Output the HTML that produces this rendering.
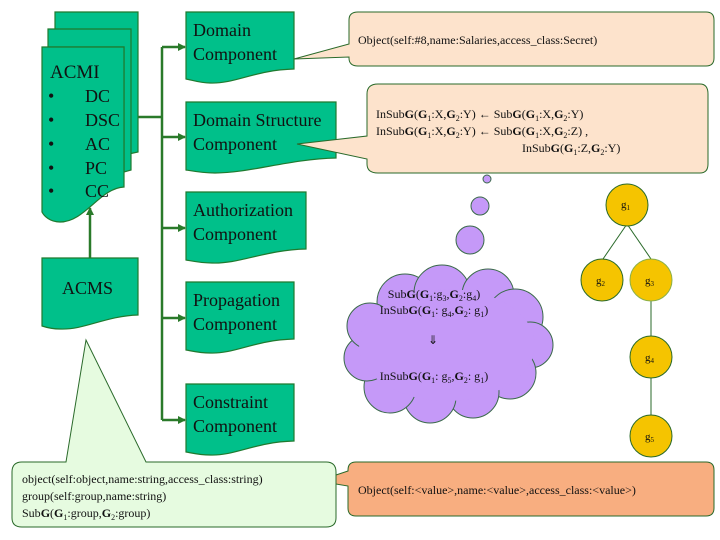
<!DOCTYPE html>
<html><head><meta charset="utf-8"><style>
html,body{margin:0;padding:0;background:#fff;}
svg{display:block;}
svg text, svg tspan{font-family:"Liberation Serif","Times New Roman",Times,serif !important;fill:#111;}
</style></head><body>
<svg width="720" height="540" viewBox="0 0 720 540" xmlns="http://www.w3.org/2000/svg">
<defs>
<marker id="ar" markerWidth="8" markerHeight="8" refX="7" refY="4" orient="auto" markerUnits="userSpaceOnUse">
<path d="M0,0 L8,4 L0,8 Z" fill="#2a7a2a"/></marker>
</defs>
<g fill="#00C08A" stroke="#1f7a2f" stroke-width="1.2">
<path d="M55,12 H138 V152 L124,155 V35 H55 Z"/>
<path d="M48,29 H131 V170 L124,172 V47 H48 Z"/>
<path d="M42,47 H124 V187 C100,188 85,222 60,222 C50,222 44,216 42,212 Z"/>
<path d="M42,258 H138 V315 C105,316 85,330 60,329 C52,329 45,327 42,326 Z"/>
<path d="M186,12 H294 V69 C255,70 235,84 210,83 C200,83 192,80 186,79 Z"/>
<path d="M186,102 H336 V158 C290,159 250,173 215,173 C203,173 192,171 186,170 Z"/>
<path d="M186,192 H306 V249 C265,250 240,264 212,263 C201,263 192,261 186,260 Z"/>
<path d="M186,282 H294 V339 C255,340 235,354 210,353 C200,353 192,351 186,350 Z"/>
<path d="M186,384 H294 V441 C255,442 235,456 210,455 C200,455 192,453 186,452 Z"/>
</g>
<g style="font-family:'Liberation Serif',serif;font-size:18px">
<text x="50" y="78" style="font-family:'Liberation Serif',serif;font-size:19px">ACMI</text>
<text x="48" y="102">•</text><text x="85" y="102" style="font-family:'Liberation Serif',serif">DC</text>
<text x="48" y="126">•</text><text x="85" y="126" style="font-family:'Liberation Serif',serif">DSC</text>
<text x="48" y="150">•</text><text x="85" y="150" style="font-family:'Liberation Serif',serif">AC</text>
<text x="48" y="174">•</text><text x="85" y="174" style="font-family:'Liberation Serif',serif">PC</text>
<text x="48" y="197">•</text><text x="85" y="197" style="font-family:'Liberation Serif',serif">CC</text>
<text x="62" y="294" style="font-family:'Liberation Serif',serif">ACMS</text>
<text x="193" y="36" style="font-family:'Liberation Serif',serif">Domain</text><text x="193" y="60" style="font-family:'Liberation Serif',serif">Component</text>
<text x="193" y="126" style="font-family:'Liberation Serif',serif">Domain Structure</text><text x="193" y="150" style="font-family:'Liberation Serif',serif">Component</text>
<text x="193" y="216" style="font-family:'Liberation Serif',serif">Authorization</text><text x="193" y="240" style="font-family:'Liberation Serif',serif">Component</text>
<text x="193" y="306" style="font-family:'Liberation Serif',serif">Propagation</text><text x="193" y="330" style="font-family:'Liberation Serif',serif">Component</text>
<text x="193" y="408" style="font-family:'Liberation Serif',serif">Constraint</text><text x="193" y="432" style="font-family:'Liberation Serif',serif">Component</text>
</g>
<g stroke="#2a7a2a" stroke-width="2.5" fill="none">
<line x1="90" y1="258" x2="90" y2="208" marker-end="url(#ar)"/>
<line x1="138" y1="117" x2="162" y2="117"/>
<line x1="162" y1="47" x2="162" y2="420"/>
<line x1="162" y1="47" x2="185" y2="47" marker-end="url(#ar)"/>
<line x1="162" y1="137" x2="185" y2="137" marker-end="url(#ar)"/>
<line x1="162" y1="228" x2="185" y2="228" marker-end="url(#ar)"/>
<line x1="162" y1="318" x2="185" y2="318" marker-end="url(#ar)"/>
<line x1="162" y1="420" x2="185" y2="420" marker-end="url(#ar)"/>
</g>
<g stroke="#2a6a2a" stroke-width="1">
<path d="M358,12 H706 Q714,12 714,20 V58 Q714,66 706,66 H358 Q349,66 349,58 V57 L294,59 L349,44 V20 Q349,12 358,12 Z" fill="#FDE3CC"/>
<path d="M378,84 H700 Q708,84 708,94 V164 Q708,173 700,173 H378 Q367,173 367,164 V159 L297,144 L367,136 V94 Q367,84 378,84 Z" fill="#FDE3CC"/>
<path d="M356,462 H706 Q714,462 714,470 V508 Q714,516 706,516 H356 Q348,516 348,508 V486 L318,481 L348,471 V470 Q348,462 356,462 Z" fill="#F8AE80"/>
<path d="M22,462 H66 L86,340 L146,462 H326 Q336,462 336,472 V518 Q336,527 326,527 H22 Q12,527 12,518 V472 Q12,462 22,462 Z" fill="#E6FBE0"/>
</g>
<g font-size="12">
<text x="358" y="44">Object(self:#8,name:Salaries,access_class:Secret)</text>
<text x="376" y="118">InSub<tspan font-weight="bold">G</tspan>(<tspan font-weight="bold">G</tspan><tspan font-size="8" dy="3">1</tspan><tspan dy="-3">:X,</tspan><tspan font-weight="bold">G</tspan><tspan font-size="8" dy="3">2</tspan><tspan dy="-3">:Y) ← Sub</tspan><tspan font-weight="bold">G</tspan>(<tspan font-weight="bold">G</tspan><tspan font-size="8" dy="3">1</tspan><tspan dy="-3">:X,</tspan><tspan font-weight="bold">G</tspan><tspan font-size="8" dy="3">2</tspan><tspan dy="-3">:Y)</tspan></text>
<text x="376" y="135">InSub<tspan font-weight="bold">G</tspan>(<tspan font-weight="bold">G</tspan><tspan font-size="8" dy="3">1</tspan><tspan dy="-3">:X,</tspan><tspan font-weight="bold">G</tspan><tspan font-size="8" dy="3">2</tspan><tspan dy="-3">:Y) ← Sub</tspan><tspan font-weight="bold">G</tspan>(<tspan font-weight="bold">G</tspan><tspan font-size="8" dy="3">1</tspan><tspan dy="-3">:X,</tspan><tspan font-weight="bold">G</tspan><tspan font-size="8" dy="3">2</tspan><tspan dy="-3">:Z) ,</tspan></text>
<text x="522" y="152">InSub<tspan font-weight="bold">G</tspan>(<tspan font-weight="bold">G</tspan><tspan font-size="8" dy="3">1</tspan><tspan dy="-3">:Z,</tspan><tspan font-weight="bold">G</tspan><tspan font-size="8" dy="3">2</tspan><tspan dy="-3">:Y)</tspan></text>
<text x="358" y="494">Object(self:&lt;value&gt;,name:&lt;value&gt;,access_class:&lt;value&gt;)</text>
<text x="22" y="483">object(self:object,name:string,access_class:string)</text>
<text x="22" y="500">group(self:group,name:string)</text>
<text x="22" y="517">Sub<tspan font-weight="bold">G</tspan>(<tspan font-weight="bold">G</tspan><tspan font-size="8" dy="3">1</tspan><tspan dy="-3">:group,</tspan><tspan font-weight="bold">G</tspan><tspan font-size="8" dy="3">2</tspan><tspan dy="-3">:group)</tspan></text>
</g>
<g fill="#C599F8" stroke="#3a6a4a" stroke-width="1">
<circle cx="487" cy="179" r="4"/>
<circle cx="480" cy="206" r="9"/>
<circle cx="470" cy="240" r="14"/>
<circle cx="405" cy="302" r="28"/><circle cx="442" cy="293" r="28"/><circle cx="488" cy="295" r="26"/>
<circle cx="515" cy="317" r="28"/><circle cx="530" cy="345" r="23"/><circle cx="510" cy="373" r="26"/>
<circle cx="473" cy="392" r="26"/><circle cx="430" cy="397" r="26"/><circle cx="390" cy="387" r="26"/>
<circle cx="367" cy="358" r="23"/><circle cx="370" cy="326" r="23"/>
<ellipse cx="447" cy="345" rx="88" ry="56" stroke="none"/>
</g>
<g text-anchor="middle" font-size="12">
<text x="434" y="298">Sub<tspan font-weight="bold">G</tspan>(<tspan font-weight="bold">G</tspan><tspan font-size="8" dy="3">1</tspan><tspan dy="-3">:g</tspan><tspan font-size="8" dy="3">3</tspan><tspan dy="-3">,</tspan><tspan font-weight="bold">G</tspan><tspan font-size="8" dy="3">2</tspan><tspan dy="-3">:g</tspan><tspan font-size="8" dy="3">4</tspan><tspan dy="-3">)</tspan></text>
<text x="434" y="314">InSub<tspan font-weight="bold">G</tspan>(<tspan font-weight="bold">G</tspan><tspan font-size="8" dy="3">1</tspan><tspan dy="-3">: g</tspan><tspan font-size="8" dy="3">4</tspan><tspan dy="-3">,</tspan><tspan font-weight="bold">G</tspan><tspan font-size="8" dy="3">2</tspan><tspan dy="-3">: g</tspan><tspan font-size="8" dy="3">1</tspan><tspan dy="-3">)</tspan></text>
<text x="433" y="344">⇓</text>
<text x="434" y="380">InSub<tspan font-weight="bold">G</tspan>(<tspan font-weight="bold">G</tspan><tspan font-size="8" dy="3">1</tspan><tspan dy="-3">: g</tspan><tspan font-size="8" dy="3">5</tspan><tspan dy="-3">,</tspan><tspan font-weight="bold">G</tspan><tspan font-size="8" dy="3">2</tspan><tspan dy="-3">: g</tspan><tspan font-size="8" dy="3">1</tspan><tspan dy="-3">)</tspan></text>
</g>
<g stroke="#2a6a2a" stroke-width="1">
<line x1="627" y1="224" x2="603" y2="259"/><line x1="627" y1="224" x2="651" y2="259"/>
<line x1="651" y1="300" x2="651" y2="436"/>
</g>
<g fill="#F5C400" stroke="#2a6a2a" stroke-width="1">
<circle cx="627" cy="205" r="21"/><circle cx="602" cy="280" r="21"/><circle cx="651" cy="280" r="21" stroke="#8ab04a"/>
<circle cx="651" cy="357" r="21"/><circle cx="651" cy="436" r="21"/>
</g>
<g font-size="11">
<text x="621" y="208">g<tspan font-size="7" dy="2">1</tspan></text>
<text x="596" y="284">g<tspan font-size="7" dy="2">2</tspan></text>
<text x="645" y="284">g<tspan font-size="7" dy="2">3</tspan></text>
<text x="645" y="361">g<tspan font-size="7" dy="2">4</tspan></text>
<text x="645" y="440">g<tspan font-size="7" dy="2">5</tspan></text>
</g>
</svg>
</body></html>
